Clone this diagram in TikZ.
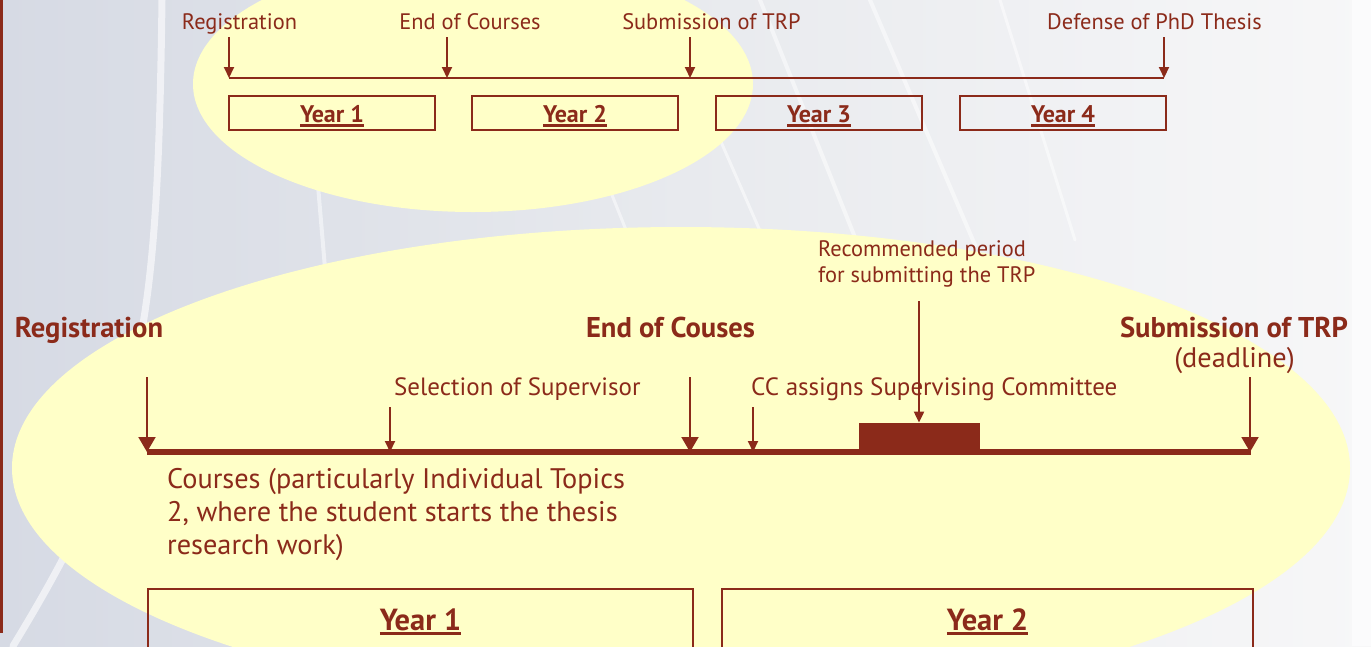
\documentclass[tikz,border=0pt]{standalone}
\usepackage{fontspec}
\setmainfont{PT Sans}
\usetikzlibrary{arrows.meta}
\definecolor{brn}{RGB}{139,42,26}
\definecolor{ylw}{RGB}{255,255,200}
\definecolor{bgl}{RGB}{214,218,228}
\definecolor{bgm}{RGB}{232,234,238}
\definecolor{bgr}{RGB}{247,247,248}
\newcommand\yearul[2]{\setbox0=\hbox{#2}\rlap{\rule[-#1]{\wd0}{2.6pt}}\box0}
\begin{document}
\begin{tikzpicture}[x=1pt,y=-1pt,
  lbl/.style={text=brn, inner sep=0pt, font=\fontsize{22.4}{26}\selectfont},
  lblb/.style={text=brn, inner sep=0pt, font=\fontsize{24}{26}\selectfont\bfseries},
  bigr/.style={text=brn, inner sep=0pt, font=\fontsize{25}{33}\selectfont},
  bigrr/.style={text=brn, inner sep=0pt, font=\fontsize{28.3}{33}\selectfont},
  bigb/.style={text=brn, inner sep=0pt, font=\fontsize{28.6}{33}\selectfont\bfseries},
  yrb/.style={text=brn, inner sep=0pt, font=\fontsize{30.5}{33}\selectfont\bfseries},
  sarr/.style={draw=brn, line width=2pt, -{Triangle[width=10pt,length=11pt]}},
  barr/.style={draw=brn, line width=2pt, -{Triangle[width=17pt,length=15pt]}},
  tbox/.style={draw=brn, line width=2pt},
  streak/.style={draw=white, line width=4pt, opacity=0.5, line cap=round}]
\useasboundingbox (0,0) rectangle (1371,646);
\clip (0,0) rectangle (1371,646);
% background
\shade[left color=bgl, right color=bgr, middle color=bgm, shading angle=90] (0,0) rectangle (1371,646);
\fill[white, opacity=0.6] (1352,0) rectangle (1371,646);
\draw[streak, line width=7pt, opacity=0.6] (162,0) .. controls (160,150) and (156,250) .. (142,330) .. controls (122,440) and (90,520) .. (13,646);
\draw[streak] (315,150) -- (326,280);
\draw[streak] (760,0) -- (858,245);
\draw[streak, line width=3pt] (718,135) -- (764,240);
\draw[streak, line width=3pt] (608,185) -- (630,240);
\draw[streak] (870,0) -- (975,245);
\draw[streak, line width=3pt] (1000,0) -- (1075,240);
\draw[brn, line width=2.5pt] (1.5,0) -- (1.5,633);
% ellipses
\fill[ylw] (473,84) ellipse [x radius=280, y radius=128];
\fill[ylw] (681,468) ellipse [x radius=669, y radius=241];

% ---------- top timeline ----------
\node[lbl, anchor=base] (tl1) at (239.5,29) {Registration};
\node[lbl, anchor=base] (tl2) at (470,29) {End of Courses};
\node[lbl, anchor=base] (tl3) at (711.5,29) {Submission of TRP};
\node[lbl, anchor=base] (tl4) at (1154.5,29) {Defense of PhD Thesis};
\coordinate (ta1) at (229,37); \coordinate (tb1) at (229,78);
\coordinate (ta2) at (447,37); \coordinate (tb2) at (447,78);
\coordinate (ta3) at (690,37); \coordinate (tb3) at (690,78);
\coordinate (ta4) at (1164,37); \coordinate (tb4) at (1164,78);
\draw[brn, line width=2.5pt] (tb1) -- (tb4);
\foreach \i in {1,2,3,4} {\draw[sarr] (ta\i) -- (tb\i);}
\node[tbox, minimum width=206pt, minimum height=34pt, inner sep=0pt] (ty1) at (332,113) {};
\node[tbox, minimum width=206pt, minimum height=34pt, inner sep=0pt] (ty2) at (575,113) {};
\node[tbox, minimum width=206pt, minimum height=34pt, inner sep=0pt] (ty3) at (819,113) {};
\node[tbox, minimum width=206pt, minimum height=34pt, inner sep=0pt] (ty4) at (1063,113) {};
\foreach \i in {1,2,3,4} {\node[lblb, anchor=base] (tyl\i) at ([yshift=-9pt]ty\i.center) {\yearul{4.5pt}{Year \i}};}

% ---------- bottom timeline ----------
\node[bigb, anchor=base] (bl1) at (89,337) {Registration};
\node[bigb, anchor=base] (bl2) at (670.5,337) {End of Couses};
\node[bigb, anchor=base] (bl3) at (1234,337) {Submission of TRP};
\node[bigrr, anchor=base] (bl3b) at (1234.5,367) {(deadline)};
\node[bigr, anchor=base west] (bl4) at (394,395) {Selection of Supervisor};
\node[bigr, anchor=base west] (bl5) at (751,395) {CC assigns Supervising Committee};
\node[lbl, anchor=base west] (bl6) at (818,256) {Recommended period};
\node[lbl, anchor=base west] (bl7) at (818,282) {for submitting the TRP};
\node[bigrr, anchor=base west] (c1) at (167,488) {Courses (particularly Individual Topics};
\node[bigrr, anchor=base west] (c2) at (167,521) {2, where the student starts the thesis};
\node[bigrr, anchor=base west] (c3) at (167,554) {research work)};

\coordinate (L0) at (147,452); \coordinate (L1) at (1251,452);
\draw[brn, line width=6pt] (L0) -- (L1);
\node[fill=brn, inner sep=0pt, minimum width=121pt, minimum height=29pt, anchor=south west] (rp) at (859,452) {};

\coordinate (ba1) at (147,377); \coordinate (bb1) at (147,452);
\coordinate (ba2) at (390,407); \coordinate (bb2) at (390,452);
\coordinate (ba3) at (690,377); \coordinate (bb3) at (690,452);
\coordinate (ba4) at (753,407); \coordinate (bb4) at (753,452);
\coordinate (ba5) at (1250,377); \coordinate (bb5) at (1250,452);
\coordinate (ba6) at (919,301);
\draw[barr] (ba1) -- (bb1);
\draw[sarr] (ba2) -- (bb2);
\draw[barr] (ba3) -- (bb3);
\draw[sarr] (ba4) -- (bb4);
\draw[barr] (ba5) -- (bb5);
\draw[sarr] (ba6) -- (ba6 |- rp.north);

\draw[tbox] (148,700) -- (148,589) -- (693,589) -- (693,700);
\draw[tbox] (722,700) -- (722,589) -- (1253,589) -- (1253,700);
\node[yrb, anchor=base] (by1) at (420.5,630) {\yearul{5pt}{Year 1}};
\node[yrb, anchor=base] (by2) at (987.5,630) {\yearul{5pt}{Year 2}};
\end{tikzpicture}
\end{document}
